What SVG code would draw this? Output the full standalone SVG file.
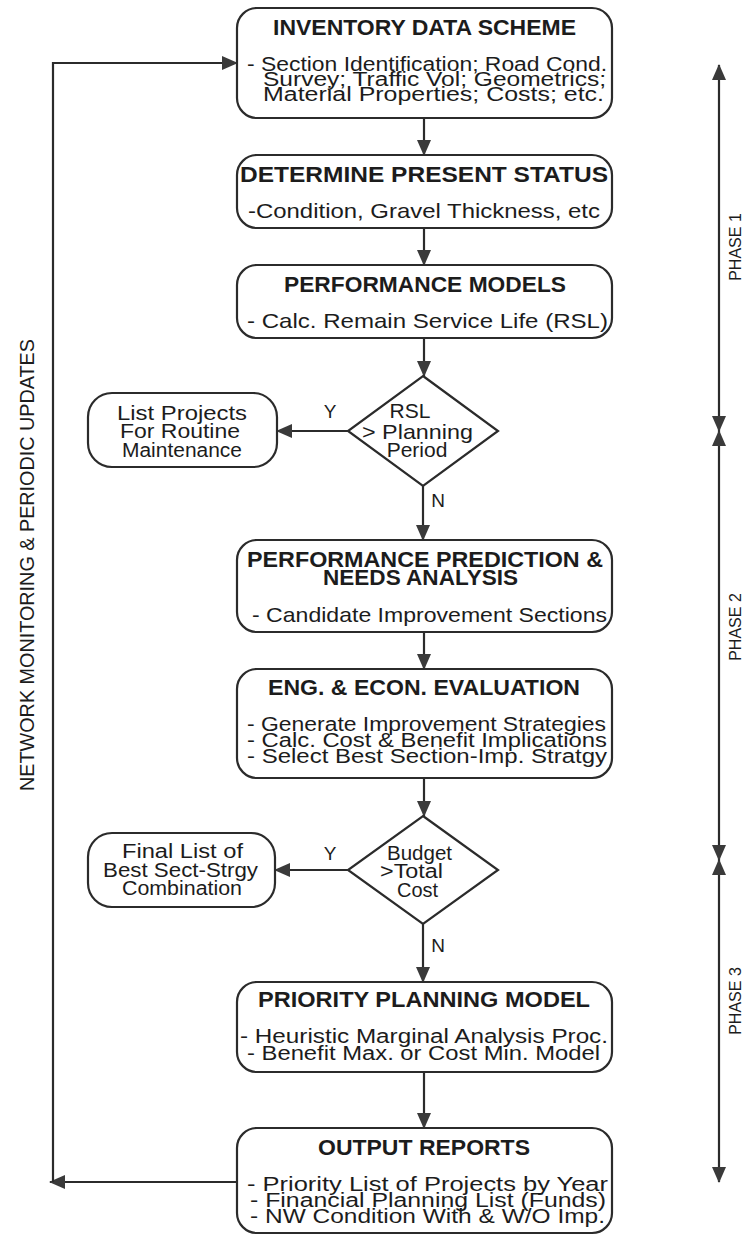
<svg xmlns="http://www.w3.org/2000/svg" width="743" height="1239" viewBox="0 0 743 1239">
<style>
.box{fill:#fff;stroke:#2b2b2b;stroke-width:2.2}
.ln{fill:none;stroke:#2b2b2b;stroke-width:2.2}
.t{font-family:"Liberation Sans",Arial,Helvetica,sans-serif;font-size:22px;font-weight:bold;fill:#1c1c1c}
.b{font-family:"Liberation Sans",Arial,Helvetica,sans-serif;font-size:21px;fill:#1c1c1c}
.m{font-family:"Liberation Sans",Arial,Helvetica,sans-serif;font-size:20px;fill:#1c1c1c}
.s{font-family:"Liberation Sans",Arial,Helvetica,sans-serif;font-size:19px;fill:#1c1c1c}
.d{font-family:"Liberation Sans",Arial,Helvetica,sans-serif;font-size:21px;fill:#1c1c1c}
.p{font-family:"Liberation Sans",Arial,Helvetica,sans-serif;font-size:16px;fill:#1c1c1c}
.v{font-family:"Liberation Sans",Arial,Helvetica,sans-serif;font-size:19.5px;fill:#1c1c1c}
</style>
<defs>
<marker id="ah" viewBox="0 0 16 14" refX="15" refY="7" markerWidth="16" markerHeight="14" markerUnits="userSpaceOnUse" orient="auto-start-reverse">
<path d="M0,0 L16,7 L0,14 z" fill="#3a3a3a"/>
</marker>
</defs>
<rect width="743" height="1239" fill="#fff"/>
<g id="connectors">
<line class="ln" x1="424" y1="118" x2="424" y2="155" marker-end="url(#ah)"/>
<line class="ln" x1="424" y1="228" x2="424" y2="265" marker-end="url(#ah)"/>
<line class="ln" x1="424" y1="338" x2="424" y2="376" marker-end="url(#ah)"/>
<line class="ln" x1="423" y1="486" x2="423" y2="540" marker-end="url(#ah)"/>
<line class="ln" x1="424" y1="632" x2="424" y2="669" marker-end="url(#ah)"/>
<line class="ln" x1="424" y1="778" x2="424" y2="816" marker-end="url(#ah)"/>
<line class="ln" x1="423" y1="924" x2="423" y2="982" marker-end="url(#ah)"/>
<line class="ln" x1="424" y1="1072" x2="424" y2="1128" marker-end="url(#ah)"/>
<line class="ln" x1="348" y1="431" x2="277" y2="431" marker-end="url(#ah)"/>
<line class="ln" x1="348" y1="870" x2="275" y2="870" marker-end="url(#ah)"/>
<path class="ln" d="M237,1182 H50" marker-end="url(#ah)"/>
<path class="ln" d="M53,1182 V63 H237" marker-end="url(#ah)"/>
<text class="s" x="330" y="418" text-anchor="middle">Y</text>
<text class="s" x="330" y="860" text-anchor="middle">Y</text>
<text class="s" x="438" y="507" text-anchor="middle">N</text>
<text class="s" x="438" y="952" text-anchor="middle">N</text>
</g>
<g id="phases">
<line class="ln" x1="719" y1="65" x2="719" y2="431" marker-start="url(#ah)" marker-end="url(#ah)"/>
<line class="ln" x1="719" y1="431" x2="719" y2="860" marker-start="url(#ah)" marker-end="url(#ah)"/>
<line class="ln" x1="719" y1="860" x2="719" y2="1182" marker-start="url(#ah)" marker-end="url(#ah)"/>
<text class="p" transform="translate(741,247) rotate(-90)" text-anchor="middle">PHASE 1</text>
<text class="p" transform="translate(741,627) rotate(-90)" text-anchor="middle">PHASE 2</text>
<text class="p" transform="translate(741,1001) rotate(-90)" text-anchor="middle">PHASE 3</text>
</g>
<g id="feedback-label">
<text class="v" transform="translate(34,565) rotate(-90)" text-anchor="middle" textLength="452" lengthAdjust="spacingAndGlyphs">NETWORK MONITORING &amp; PERIODIC UPDATES</text>
</g>
<g id="inventory">
<rect class="box" x="237" y="8" width="375" height="110" rx="20"/>
<text class="t" x="273" y="35" textLength="303" lengthAdjust="spacingAndGlyphs">INVENTORY DATA SCHEME</text>
<text class="m" x="247" y="71" textLength="360" lengthAdjust="spacingAndGlyphs">- Section Identification;  Road Cond.</text>
<text class="m" x="263" y="86" textLength="343" lengthAdjust="spacingAndGlyphs">Survey; Traffic Vol; Geometrics;</text>
<text class="m" x="263" y="101" textLength="341" lengthAdjust="spacingAndGlyphs">Material Properties; Costs; etc.</text>
</g>
<g id="present-status">
<rect class="box" x="237" y="155" width="375" height="73" rx="20"/>
<text class="t" x="240" y="182" textLength="368" lengthAdjust="spacingAndGlyphs">DETERMINE PRESENT STATUS</text>
<text class="b" x="248" y="218" textLength="352" lengthAdjust="spacingAndGlyphs">-Condition, Gravel Thickness, etc</text>
</g>
<g id="performance-models">
<rect class="box" x="237" y="265" width="375" height="73" rx="20"/>
<text class="t" x="284" y="292" textLength="282" lengthAdjust="spacingAndGlyphs">PERFORMANCE MODELS</text>
<text class="b" x="247" y="328" textLength="361" lengthAdjust="spacingAndGlyphs">- Calc. Remain Service Life (RSL)</text>
</g>
<g id="rsl-decision">
<polygon class="box" points="423,376 498,431 423,486 348,431"/>
<text class="d" x="410" y="418" text-anchor="middle">RSL</text>
<text class="d" x="362" y="439" textLength="111" lengthAdjust="spacingAndGlyphs">&gt; Planning</text>
<text class="d" x="417" y="457" text-anchor="middle">Period</text>
</g>
<g id="routine-maintenance">
<rect class="box" x="88" y="393" width="189" height="74" rx="24"/>
<text class="m" x="117" y="420" textLength="130" lengthAdjust="spacingAndGlyphs">List  Projects</text>
<text class="m" x="120" y="438" textLength="120" lengthAdjust="spacingAndGlyphs">For Routine</text>
<text class="m" x="122" y="457" textLength="120" lengthAdjust="spacingAndGlyphs">Maintenance</text>
</g>
<g id="needs-analysis">
<rect class="box" x="237" y="540" width="375" height="92" rx="20"/>
<text class="t" x="247" y="567" textLength="356" lengthAdjust="spacingAndGlyphs">PERFORMANCE PREDICTION &amp;</text>
<text class="t" x="323" y="585" textLength="195" lengthAdjust="spacingAndGlyphs">NEEDS ANALYSIS</text>
<text class="b" x="252" y="622" textLength="355" lengthAdjust="spacingAndGlyphs">- Candidate Improvement Sections</text>
</g>
<g id="evaluation">
<rect class="box" x="237" y="669" width="375" height="109" rx="20"/>
<text class="t" x="268" y="695" textLength="312" lengthAdjust="spacingAndGlyphs">ENG. &amp; ECON. EVALUATION</text>
<text class="m" x="247" y="731" textLength="359" lengthAdjust="spacingAndGlyphs">- Generate Improvement Strategies</text>
<text class="m" x="247" y="747" textLength="360" lengthAdjust="spacingAndGlyphs">- Calc. Cost &amp; Benefit Implications</text>
<text class="m" x="247" y="763" textLength="360" lengthAdjust="spacingAndGlyphs">- Select Best Section-Imp. Stratgy</text>
</g>
<g id="budget-decision">
<polygon class="box" points="423,816 498,870 423,924 348,870"/>
<text class="m" x="387" y="860" textLength="65" lengthAdjust="spacingAndGlyphs">Budget</text>
<text class="m" x="380" y="878" textLength="63" lengthAdjust="spacingAndGlyphs">&gt;Total</text>
<text class="m" x="397" y="897" textLength="41" lengthAdjust="spacingAndGlyphs">Cost</text>
</g>
<g id="final-list">
<rect class="box" x="88" y="833" width="187" height="74" rx="24"/>
<text class="m" x="122" y="858" textLength="121" lengthAdjust="spacingAndGlyphs">Final List of</text>
<text class="m" x="103" y="877" textLength="155" lengthAdjust="spacingAndGlyphs">Best Sect-Strgy</text>
<text class="m" x="122" y="895" textLength="120" lengthAdjust="spacingAndGlyphs">Combination</text>
</g>
<g id="priority-planning">
<rect class="box" x="237" y="982" width="375" height="90" rx="20"/>
<text class="t" x="258" y="1007" textLength="332" lengthAdjust="spacingAndGlyphs">PRIORITY PLANNING MODEL</text>
<text class="m" x="240" y="1043" textLength="368" lengthAdjust="spacingAndGlyphs">- Heuristic Marginal Analysis Proc.</text>
<text class="m" x="247" y="1060" textLength="353" lengthAdjust="spacingAndGlyphs">- Benefit Max. or Cost Min. Model</text>
</g>
<g id="output-reports">
<rect class="box" x="237" y="1128" width="375" height="105" rx="20"/>
<text class="t" x="318" y="1155" textLength="212" lengthAdjust="spacingAndGlyphs">OUTPUT REPORTS</text>
<text class="m" x="247" y="1191" textLength="361" lengthAdjust="spacingAndGlyphs">- Priority List of Projects by Year</text>
<text class="m" x="250" y="1207" textLength="356" lengthAdjust="spacingAndGlyphs">- Financial Planning List (Funds)</text>
<text class="m" x="250" y="1223" textLength="355" lengthAdjust="spacingAndGlyphs">- NW Condition With &amp; W/O Imp.</text>
</g>
</svg>
